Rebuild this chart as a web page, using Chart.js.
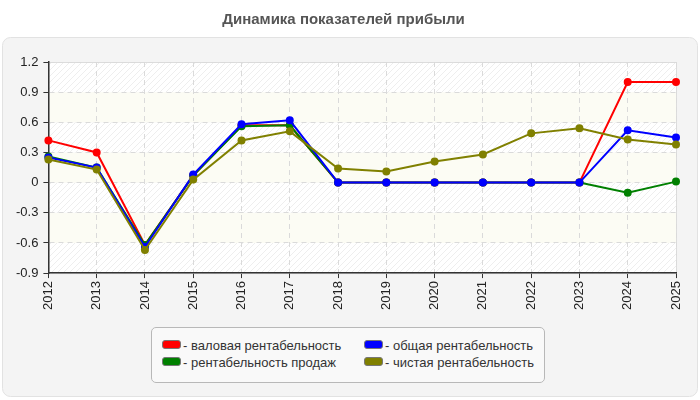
<!DOCTYPE html>
<html>
<head>
<meta charset="utf-8">
<script src="https://cdn.jsdelivr.net/npm/chart.js@4"></script>
<style>
  html, body { margin: 0; padding: 0; background: #fff; }
  #wrap { position: relative; width: 700px; height: 400px; }
  #legend {
    position: absolute; left: 151px; top: 327px; width: 394px; height: 56px;
    border: 1px solid #b8b8b8; border-radius: 5px; background: #f9f9f9;
    box-sizing: border-box; font-family: "Liberation Sans", Arial, sans-serif;
    font-size: 13px; color: #333;
  }
  #legend .item { position: absolute; white-space: nowrap; line-height: 15px; }
  #legend .sw {
    display: inline-block; width: 17px; height: 7px; border: 1px solid #777;
    border-radius: 3px; vertical-align: 1px; margin-right: 2px;
  }
</style>
</head>
<body>
<div id="wrap">
  <canvas id="myChart" width="700" height="400"></canvas>
  <div id="legend"></div>
</div>
<script>
const years = ['2012', '2013', '2014', '2015', '2016', '2017', '2018', '2019', '2020', '2021', '2022', '2023', '2024', '2025'];
const gross = [0.42, 0.30, -0.62, 0.07, 0.57, 0.57, 0, 0, 0, 0, 0, 0, 1.00, 1.00];
const total = [0.25, 0.15, -0.64, 0.08, 0.58, 0.62, 0, 0, 0, 0, 0, 0, 0.52, 0.45];
const sales = [0.26, 0.15, -0.62, 0.07, 0.56, 0.57, 0, 0, 0, 0, 0, 0, -0.10, 0.01];
const net = [0.23, 0.13, -0.67, 0.03, 0.42, 0.51, 0.14, 0.11, 0.21, 0.28, 0.49, 0.54, 0.43, 0.38];
const seriesNames = ['валовая рентабельность', 'общая рентабельность', 'рентабельность продаж', 'чистая рентабельность'];
const seriesColors = ['#ff0000', '#0000ff', '#008000', '#808000'];
const yTicks = [-0.9, -0.6, -0.3, 0, 0.3, 0.6, 0.9, 1.2];

function makeHatch() {
    const c = document.createElement('canvas');
    c.width = 6; c.height = 6;
    const g = c.getContext('2d');
    g.fillStyle = '#ffffff';
    g.fillRect(0, 0, 6, 6);
    g.strokeStyle = '#eeeeee';
    g.lineWidth = 1;
    g.beginPath();
    g.moveTo(0, 6); g.lineTo(6, 0);
    g.moveTo(-3, 3); g.lineTo(3, -3);
    g.moveTo(3, 9); g.lineTo(9, 3);
    g.stroke();
    return g.createPattern(c, 'repeat');
}

const background = {
    id: 'background',
    beforeDraw(chart) {
        const ctx = chart.ctx;
        const a = chart.chartArea;
        const y = chart.scales.y;
        ctx.save();
        // panel
        ctx.fillStyle = '#f4f4f4';
        ctx.strokeStyle = '#e2e2e2';
        ctx.lineWidth = 1;
        ctx.beginPath();
        ctx.roundRect(2.5, 37.5, 695, 359, 8);
        ctx.fill();
        ctx.stroke();
        // bands
        const hatch = makeHatch();
        for (let i = 0; i < yTicks.length - 1; i++) {
            const top = y.getPixelForValue(yTicks[i + 1]);
            const bot = y.getPixelForValue(yTicks[i]);
            ctx.fillStyle = (yTicks.length - 2 - i) % 2 == 0 ? hatch : '#fcfcf4';
            ctx.fillRect(a.left, top, a.right - a.left, bot - top);
        }
        ctx.strokeStyle = '#dcdcdc';
        ctx.strokeRect(a.left + 0.5, a.top + 0.5, a.right - a.left, a.bottom - a.top);
        ctx.restore();
    }
};

const data = [gross, total, sales, net];
const ctx = document.getElementById('myChart');
new Chart(ctx, {
    type: 'line',
    data: {
        labels: years,
        datasets: data.map((d, i) => ({
            label: seriesNames[i],
            data: d,
            borderColor: seriesColors[i],
            backgroundColor: seriesColors[i],
            borderWidth: 2,
            pointRadius: 3,
            pointHoverRadius: 3,
            tension: 0,
            order: [4, 2, 3, 1][i]
        }))
    },
    options: {
        responsive: false,
        animation: false,
        layout: { padding: { left: 11, right: 24, top: 0, bottom: 87 } },
        plugins: {
            legend: { display: false },
            tooltip: { enabled: false },
            title: {
                display: true,
                text: 'Динамика показателей прибыли',
                color: '#555',
                font: { family: '"Liberation Sans", Arial, sans-serif', size: 15, weight: 'bold' },
                padding: { top: 11, bottom: 33 }
            }
        },
        scales: {
            x: {
                offset: false,
                grid: { color: '#dadada', tickColor: '#333', tickLength: 5, tickBorderDash: [] },
                border: { color: '#333', width: 1.5, dash: [5, 4] },
                ticks: {
                    color: '#222', minRotation: 90, maxRotation: 90, padding: 3,
                    font: { family: '"Liberation Sans", Arial, sans-serif', size: 13 }
                }
            },
            y: {
                min: -0.9, max: 1.2,
                afterBuildTicks: s => { s.ticks = yTicks.map(v => ({ value: v })); },
                grid: { color: '#dadada', tickColor: '#333', tickLength: 5, tickBorderDash: [] },
                border: { color: '#333', width: 1.5, dash: [5, 4] },
                ticks: {
                    color: '#222', padding: 5,
                    callback: v => String(Math.round(v * 10) / 10),
                    font: { family: '"Liberation Sans", Arial, sans-serif', size: 13 }
                }
            }
        }
    },
    plugins: [background]
});

const legend = document.getElementById('legend');
const pos = [[10, 10], [212, 10], [10, 27], [212, 27]];
const legendOrder = [0, 1, 2, 3];
legendOrder.forEach((k, i) => {
    const el = document.createElement('div');
    el.className = 'item';
    el.style.left = pos[i][0] + 'px';
    el.style.top = pos[i][1] + 'px';
    el.innerHTML = `<span class="sw" style="background:${seriesColors[k]}"></span>- ${seriesNames[k]}`;
    legend.appendChild(el);
});
</script>
</body>
</html>
